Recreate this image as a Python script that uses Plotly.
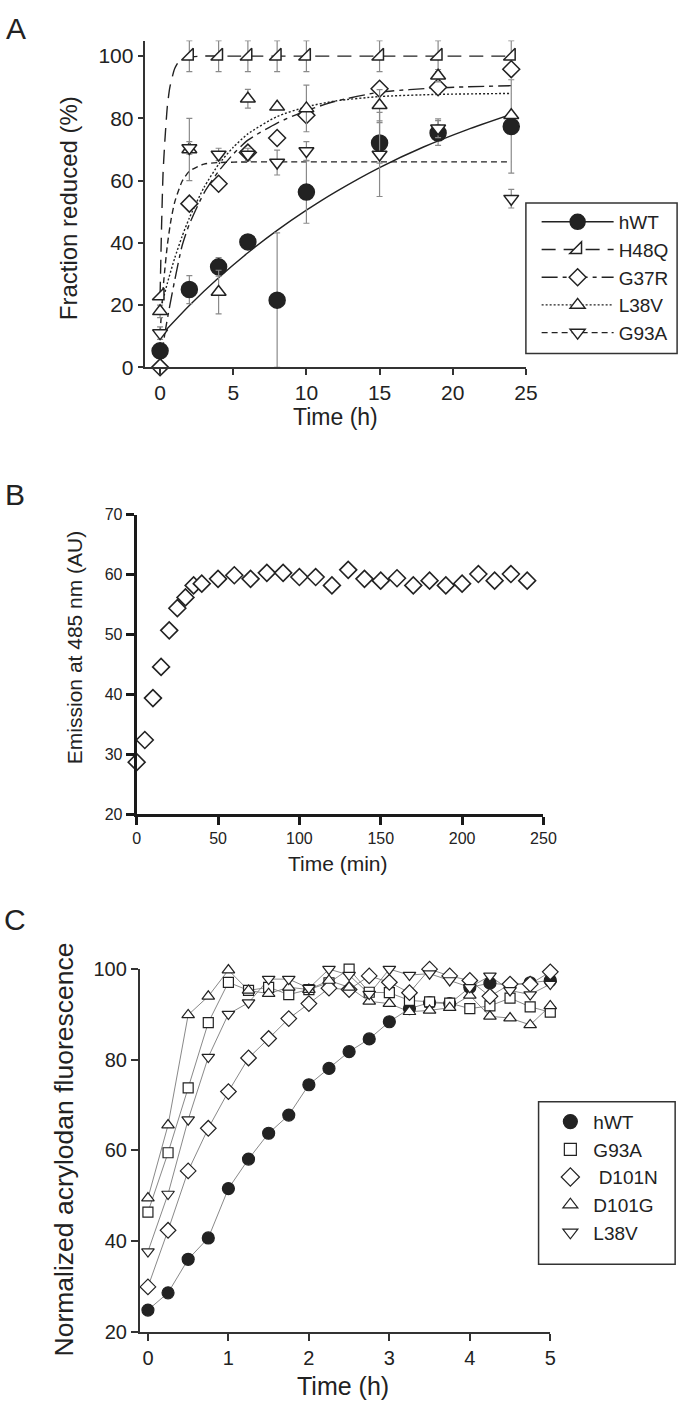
import plotly.graph_objects as go

W, H = 694, 1413

# ---------------- Panel A data ----------------
a_time = [0, 2, 4, 6, 8, 10, 15, 19, 24]
a_hwt = [5.3, 25.0, 32.3, 40.3, 21.6, 56.3, 72.1, 75.3, 77.4]
a_hwt_err = [0, 4.5, 3, 2, 21.6, 10, 6.5, 4, 15]
a_h48q = [23, 100, 100, 100, 100, 100, 100, 100, 100]
a_h48q_err = [0, 5, 5, 5, 5, 5, 5, 5, 5]
a_g37r = [0, 52.6, 59.0, 69.0, 73.7, 81.0, 89.5, 90.0, 95.8]
a_g37r_err = [0, 0, 0, 0, 0, 0, 0, 0, 0]
a_l38v = [18, 70, 24.2, 86.3, 83.7, 83.2, 84.2, 93.7, 81.0]
a_l38v_err = [2, 10, 7, 3, 0, 7.5, 5, 2, 0]
a_g93a = [11, 70.5, 68.4, 68.4, 65.8, 69.5, 68.4, 76.8, 54.2]
a_g93a_err = [2, 2, 2, 2, 4, 3, 13.5, 3, 3]

# fitted curves, points
fit_hwt_t = [0, 2, 4, 6, 8, 10, 12, 15, 18, 21, 24]
fit_hwt_y = [10, 19.9, 28.8, 36.8, 44.0, 50.5, 56.4, 64.2, 70.8, 76.4, 81.3]
fit_h48q_t = [0, 0.1, 0.2, 0.33, 0.5, 0.67, 1.0, 1.33, 2, 3, 5, 10, 15, 20, 24]
fit_h48q_y = [23, 45, 62, 73, 84, 90, 96, 98.5, 99.7, 100, 100, 100, 100, 100, 100]
fit_g37r_t = [0, 0.33, 0.67, 1.0, 1.5, 2, 3, 4, 5, 6, 8, 10, 12, 15, 19, 24]
fit_g37r_y = [0, 11, 20, 28, 39, 46, 56, 63, 68.5, 73, 78.5, 82.5, 85.5, 88.4, 89.8, 90.5]
fit_l38v_t = [0, 0.5, 1, 1.5, 2, 3, 4, 5, 6, 8, 10, 12, 15, 19, 24]
fit_l38v_y = [18, 27.1, 35.1, 42, 48, 57.8, 65.2, 70.7, 75, 80.6, 83.7, 85.6, 87, 87.7, 88]
fit_g93a_t = [0, 0.25, 0.5, 0.75, 1, 1.5, 2, 3, 4, 6, 10, 15, 20, 24]
fit_g93a_y = [11, 27.7, 39.4, 47.5, 53.1, 59.7, 63, 65.3, 65.8, 66, 66, 66, 66, 66]

a_xticks = [0, 5, 10, 15, 20, 25]
a_yticks = [0, 20, 40, 60, 80, 100]

# ---------------- Panel B data ----------------
b_time = [0, 5, 10, 15, 20, 25, 30, 35, 40, 50, 60, 70, 80, 90, 100, 110, 120,
          130, 140, 150, 160, 170, 180, 190, 200, 210, 220, 230, 240]
b_emission = [28.7, 32.4, 39.4, 44.6, 50.7, 54.4, 56.2, 58.2, 58.5, 59.3, 59.9, 59.3,
              60.3, 60.3, 59.6, 59.6, 58.2, 60.8, 59.3, 59.0, 59.4, 58.2, 59.0, 58.2,
              58.5, 60.1, 59.0, 60.1, 59.0]
b_xticks = [0, 50, 100, 150, 200, 250]
b_yticks = [20, 30, 40, 50, 60, 70]

# ---------------- Panel C data ----------------
c_time = [0, 0.25, 0.5, 0.75, 1, 1.25, 1.5, 1.75, 2, 2.25, 2.5, 2.75, 3, 3.25, 3.5,
          3.75, 4, 4.25, 4.5, 4.75, 5]
c_hwt = [24.8, 28.6, 36.0, 40.7, 51.6, 58.1, 63.8, 67.8, 74.5, 78.1, 81.8, 84.6, 88.4,
         91.3, 92.6, 92.4, 96.0, 96.9, 96.5, 97.0, 97.5]
c_g93a = [46.4, 59.5, 73.8, 88.2, 97.1, 95.3, 96.0, 94.4, 95.5, 97.0, 100.0, 94.9, 94.8,
          93.1, 92.8, 92.5, 91.3, 91.9, 93.6, 91.7, 90.5]
c_d101n = [29.9, 42.4, 55.5, 64.9, 73.0, 80.4, 84.7, 89.1, 92.4, 95.8, 95.5, 98.5, 97.1,
           94.8, 100.0, 98.5, 97.5, 94.0, 96.7, 96.7, 99.4]
c_d101g = [49.5, 65.6, 89.9, 94.0, 99.8, 95.3, 94.6, 96.0, 95.5, 97.5, 96.0, 92.9, 92.4,
           90.6, 90.9, 91.5, 94.2, 89.6, 89.2, 87.7, 91.9]
c_l38v = [37.7, 50.4, 66.8, 80.6, 90.1, 92.6, 97.8, 97.8, 95.8, 100.0, 98.7, 94.5, 100.0,
          98.7, 99.0, 97.5, 96.0, 98.5, 95.3, 94.4, 96.7]
c_xticks = [0, 1, 2, 3, 4, 5]
c_yticks = [20, 40, 60, 80, 100]


def px(x):
    return x / W


def py(y):
    return 1 - y / H


FONT = "Liberation Sans, Arial, Helvetica, sans-serif"
INK = "#222222"
fig = go.Figure()

# ---------------- Panel A traces ----------------
fits = [
    ("hWT", fit_hwt_t, fit_hwt_y, "solid", "circle", INK),
    ("H48Q", fit_h48q_t, fit_h48q_y, "14px,8px", "triangle-se", "white"),
    ("G37R", fit_g37r_t, fit_g37r_y, "16px,5px,4px,5px", "diamond", "white"),
    ("L38V", fit_l38v_t, fit_l38v_y, "2px,2px", "triangle-up", "white"),
    ("G93A", fit_g93a_t, fit_g93a_y, "6px,4px", "triangle-down", "white"),
]
for name, t, y, dash, sym, fill in fits:
    fig.add_trace(go.Scatter(x=t, y=y, mode="lines",
                             line=dict(color=INK, width=1.4, dash=dash, shape="spline", smoothing=0.6),
                             showlegend=False, hoverinfo="skip", xaxis="x", yaxis="y"))

pts = [
    ("hWT", a_hwt, a_hwt_err, "circle", INK, 16),
    ("H48Q", a_h48q, a_h48q_err, "triangle-se", "white", 13),
    ("G37R", a_g37r, a_g37r_err, "diamond", "white", 13),
    ("L38V", a_l38v, a_l38v_err, "triangle-up", "white", 13),
    ("G93A", a_g93a, a_g93a_err, "triangle-down", "white", 13),
]
for name, y, err, sym, fill, size in pts:
    fig.add_trace(go.Scatter(x=a_time, y=y, mode="markers", cliponaxis=False,
                             marker=dict(symbol=sym, size=size, color=fill, line=dict(color=INK, width=1.5)),
                             error_y=dict(type="data", array=err, color="#8a8a8a", thickness=1.2, width=3),
                             showlegend=False, xaxis="x", yaxis="y"))

# legend A entries (line + marker samples)
for i, (name, t, y, dash, sym, fill) in enumerate(fits):
    fig.add_trace(go.Scatter(x=[None], y=[None], mode="lines+markers", name=name, legend="legend",
                             legendgroup="a%d" % i,
                             line=dict(color=INK, width=1.4, dash=dash),
                             marker=dict(symbol=sym, size=13 if sym != "circle" else 15, color=fill,
                                         line=dict(color=INK, width=1.5)),
                             xaxis="x", yaxis="y"))

# ---------------- Panel B traces ----------------
fig.add_trace(go.Scatter(x=b_time, y=b_emission, mode="markers", cliponaxis=False,
                         marker=dict(symbol="diamond", size=13, color="white", line=dict(color=INK, width=1.6)),
                         showlegend=False, xaxis="x2", yaxis="y2"))

# ---------------- Panel C traces ----------------
c_series = [
    ("hWT", c_hwt, "circle", INK, 12),
    ("G93A", c_g93a, "square", "white", 10),
    (" D101N", c_d101n, "diamond", "white", 12),
    ("D101G", c_d101g, "triangle-up", "white", 11),
    ("L38V", c_l38v, "triangle-down", "white", 11),
]
for name, y, sym, fill, size in c_series:
    fig.add_trace(go.Scatter(x=c_time, y=y, mode="lines", line=dict(color="#7a7a7a", width=0.9),
                             showlegend=False, hoverinfo="skip", xaxis="x3", yaxis="y3"))
for i, (name, y, sym, fill, size) in enumerate(c_series):
    fig.add_trace(go.Scatter(x=c_time, y=y, mode="markers", cliponaxis=False,
                             marker=dict(symbol=sym, size=size, color=fill, line=dict(color=INK, width=1.2)),
                             showlegend=False, xaxis="x3", yaxis="y3"))
for i, (name, y, sym, fill, size) in enumerate(c_series):
    fig.add_trace(go.Scatter(x=[None], y=[None], mode="markers", name=name, legend="legend2",
                             legendgroup="c%d" % i,
                             marker=dict(symbol=sym, size=size + 2, color=fill, line=dict(color=INK, width=1.2)),
                             xaxis="x3", yaxis="y3"))


def axis(domain, rng, ticks, anchor, lw, tfont, tlen, color="#333333"):
    return dict(domain=domain, range=rng, tickvals=ticks, anchor=anchor, showline=True,
                linecolor=color, linewidth=lw, ticks="outside", ticklen=tlen, tickwidth=lw,
                tickcolor=color, showgrid=False, zeroline=False,
                tickfont=dict(family=FONT, size=tfont, color="#222222"), fixedrange=True)


fig.update_layout(
    width=W, height=H, margin=dict(l=0, r=0, t=0, b=0),
    paper_bgcolor="white", plot_bgcolor="white",
    font=dict(family=FONT, color="#222222"),
    xaxis=axis([px(145), px(535)], [-1, 25], a_xticks, "y", 1.5, 21, 6),
    yaxis=axis([py(362), py(30)], [0, 105], a_yticks, "x", 1.5, 21, 6),
    xaxis2=axis([px(136), px(553)], [0, 250], b_xticks, "y2", 3, 16, 8, "#1a1a1a"),
    yaxis2=axis([py(816), py(511.7)], [20, 70], b_yticks, "x2", 3, 16, 8, "#1a1a1a"),
    xaxis3=axis([px(139.3), px(560)], [-0.1, 5], c_xticks, "y3", 2, 20, 7),
    yaxis3=axis([py(1341.7), py(973.3)], [20, 100], c_yticks, "x3", 2, 20, 7),
    legend=dict(x=px(546), y=py(195), xanchor="left", yanchor="top",
                borderwidth=0, bgcolor="rgba(0,0,0,0)",
                font=dict(family=FONT, size=19, color="#222222"), itemwidth=72,
                tracegroupgap=9, traceorder="normal"),
    legend2=dict(x=px(557), y=py(1109), xanchor="left", yanchor="top",
                 borderwidth=0, bgcolor="rgba(0,0,0,0)",
                 font=dict(family=FONT, size=19, color="#222222"), itemwidth=36,
                 tracegroupgap=6, traceorder="normal"),
)

# legend frames
fig.add_shape(type="rect", xref="paper", yref="paper", x0=px(535), x1=px(690), y0=py(348), y1=py(195),
              line=dict(color="#333333", width=1.5), fillcolor="rgba(0,0,0,0)", layer="below")
fig.add_shape(type="rect", xref="paper", yref="paper", x0=px(548), x1=px(688), y0=py(1273), y1=py(1108),
              line=dict(color="#333333", width=1.5), fillcolor="rgba(0,0,0,0)", layer="below")

annos = [
    dict(text="A", x=px(12), y=py(18), size=30, angle=0),
    dict(text="B", x=px(11), y=py(491), size=30, angle=0),
    dict(text="C", x=px(11), y=py(923), size=30, angle=0),
    dict(text="Fraction reduced (%)", x=px(67), y=py(200), size=24, angle=-90),
    dict(text="Time (h)", x=px(340), y=py(412), size=23, angle=0),
    dict(text="Emission at 485 nm (AU)", x=px(73), y=py(647), size=21, angle=-90),
    dict(text="Time (min)", x=px(342), y=py(866), size=21, angle=0),
    dict(text="Normalized acrylodan fluorescence", x=px(62), y=py(1156), size=26.5, angle=-90),
    dict(text="Time (h)", x=px(347), y=py(1397), size=25, angle=0),
]
for a in annos:
    fig.add_annotation(text=a["text"], x=a["x"], y=a["y"], xref="paper", yref="paper",
                       xanchor="center", yanchor="middle", showarrow=False, textangle=a["angle"],
                       font=dict(family=FONT, size=a["size"], color="#222222"))

fig.write_html("out.html", config={"displayModeBar": False},
               post_script="document.body.style.margin='0px';")
